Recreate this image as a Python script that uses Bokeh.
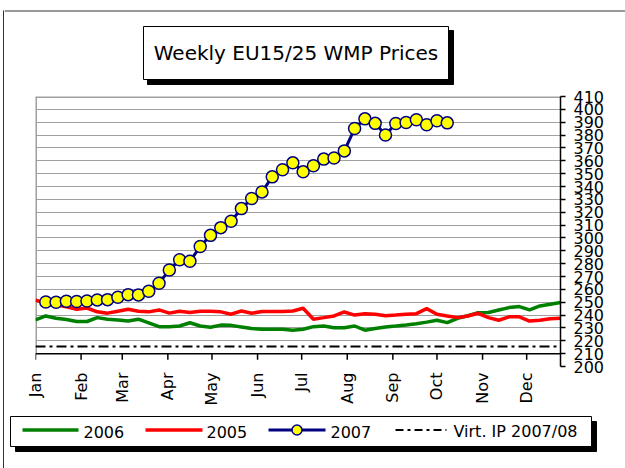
import math
from bokeh.plotting import figure
from bokeh.layouts import column, row
from bokeh.models import Range1d, FixedTicker, Span
from bokeh.core.properties import value
from bokeh.embed import file_html
from bokeh.resources import INLINE

# ---------------- data ----------------
TITLE = "Weekly EU15/25 WMP Prices"
MONTHS = ["Jan", "Feb", "Mar", "Apr", "May", "Jun", "Jul", "Aug", "Sep", "Oct", "Nov", "Dec"]
MONTH_START_DAY = [0, 31, 59, 90, 120, 151, 181, 212, 243, 273, 304, 334]
Y_TICKS = list(range(200, 420, 10))
GRID_TICKS = list(range(220, 410, 10))
X_MIN, X_MAX = 0, 357
Y_MIN, Y_MAX = 200, 410
X_AXIS_CROSS = 210

WEEKS_OLD = list(range(52))        # week index (2005 / 2006)
WEEKS_2007 = list(range(1, 41))    # week index (2007)

P2006 = [236.2, 239.3, 237.5, 236.5, 235, 235, 238, 236.8, 236.2, 235.4,
         236.8, 234, 231, 231, 231.5, 234, 231.5, 230.5, 232.2, 232,
         230.8, 229.5, 229, 229, 229, 228.2, 229, 231, 231.5, 230.2,
         230.2, 231.5, 228.2, 229.5, 230.8, 231.5, 232.3, 233.3, 234.5, 236,
         234.1, 237.5, 239.5, 241.9, 242, 244, 245.8, 246.6, 244, 247.1,
         248.4, 249.7]
P2005 = [251.6, 249.5, 248, 246.5, 244.5, 245.5, 242.5, 241.5, 243, 244.5,
         243, 242.5, 244, 241.5, 243, 242, 243, 243, 242.5, 240.7,
         243.2, 241.4, 242.7, 242.7, 242.7, 243.2, 245.3, 236.8, 238, 239.3,
         242.4, 240, 241, 240.7, 239.5, 240, 240.7, 241.1, 245, 240.7,
         239.3, 238, 239.3, 241.4, 238, 236, 238.6, 238.6, 235.3, 236,
         237.2, 237.6]
P2007 = [250.2, 250, 250.8, 250.5, 251, 251.8, 252, 253.9, 255.9, 255.7,
         258.5, 264.8, 275, 283, 281.8, 293.3, 302, 308, 313, 322.8,
         330.6, 335.8, 347.5, 353, 358.4, 351.4, 356.2, 361.3, 362.1, 367.7,
         385.1, 392.6, 389.1, 380.1, 389, 389.8, 391.9, 388, 391.1, 389.5]
VIRT_IP = 215.5
LEGEND_LABELS = ["2006", "2005", "2007", "Virt. IP 2007/08"]

GREEN = "#008000"
RED = "#ff0000"
NAVY = "#000080"
YELLOW = "#ffff00"
FONT = "DejaVu Sans"

DAYS_OLD = [7 * w for w in WEEKS_OLD]
DAYS_2007 = [7 * w for w in WEEKS_2007]

W = 621  # width of the column figures


def blank(width, height):
    f = figure(width=width, height=height, x_range=Range1d(0, width), y_range=Range1d(height, 0),
               toolbar_location=None, output_backend="svg", min_border=0,
               min_border_left=0, min_border_right=0, min_border_top=0, min_border_bottom=0,
               x_axis_location=None, y_axis_location=None, outline_line_color=None,
               background_fill_color="white", border_fill_color="white")
    f.xgrid.visible = False
    f.ygrid.visible = False
    return f


# ---------------- left frame strip ----------------
strip = blank(4, 468)
strip.quad(left=2.5, right=3.5, top=10, bottom=468, fill_color="#333333", line_color=None)

# ---------------- title ----------------
top = blank(W, 88)
top.segment(x0=0, y0=10.5, x1=W, y1=10.5, line_color="#333333", line_width=1)
top.quad(left=143, right=449, top=30, bottom=84, fill_color="black", line_color="black")
top.quad(left=139, right=444, top=26, bottom=79, fill_color="white", line_color="black", line_width=1)
top.text(x=[291.5], y=[52.5], text=[TITLE], text_align="center", text_baseline="middle",
         text_font=value(FONT), text_font_size="20px", text_color="black")

# ---------------- main plot ----------------
p = figure(width=W, height=325, x_range=Range1d(X_MIN, X_MAX), y_range=Range1d(Y_MIN, Y_MAX),
           y_axis_location="right", toolbar_location=None, output_backend="svg",
           min_border_left=31, min_border_right=65, min_border_top=8, min_border_bottom=47,
           outline_line_color=None, background_fill_color="white", border_fill_color="white")
p.xgrid.visible = False
p.ygrid.ticker = FixedTicker(ticks=GRID_TICKS)
p.ygrid.grid_line_color = "#a0a0a0"
p.ygrid.grid_line_width = 1

p.yaxis.ticker = FixedTicker(ticks=Y_TICKS)
p.yaxis.minor_tick_line_color = None
p.yaxis.major_tick_out = 5
p.yaxis.major_tick_in = 0
p.yaxis.axis_line_width = 1.5
p.yaxis.major_tick_line_width = 1.5
p.yaxis.major_label_standoff = 8
p.yaxis.major_label_text_font = FONT
p.yaxis.major_label_text_font_size = "16px"
p.yaxis.major_label_text_color = "black"

p.xaxis.ticker = FixedTicker(ticks=MONTH_START_DAY)
p.xaxis.major_label_overrides = {d: m for d, m in zip(MONTH_START_DAY, MONTHS)}
p.xaxis.major_label_orientation = math.pi / 2
p.xaxis.axis_line_color = None
p.xaxis.major_tick_line_color = None
p.xaxis.minor_tick_line_color = None
p.xaxis.major_label_standoff = 0
p.xaxis.major_label_text_font = FONT
p.xaxis.major_label_text_font_size = "16px"
p.xaxis.major_label_text_color = "black"

# frame borders (top, left) in grey
p.segment(x0=[X_MIN, X_MIN], y0=[X_AXIS_CROSS, Y_MAX], x1=[X_MIN, X_MAX], y1=[Y_MAX, Y_MAX],
          line_color="#a0a0a0", line_width=3)
# category axis crossing at 210
p.add_layout(Span(location=X_AXIS_CROSS, dimension="width", line_color="black", line_width=1.5))
p.segment(x0=MONTH_START_DAY, y0=[X_AXIS_CROSS] * 12, x1=MONTH_START_DAY, y1=[X_AXIS_CROSS - 4.7] * 12,
          line_color="black", line_width=1.5)

p.add_layout(Span(location=VIRT_IP, dimension="width", line_color="black", line_width=2,
                  line_dash="10 4 3 4"))
p.line(DAYS_OLD, P2006, line_color=GREEN, line_width=3.5)
p.line(DAYS_OLD, P2005, line_color=RED, line_width=3.5)
p.line(DAYS_2007, P2007, line_color=NAVY, line_width=3)
p.scatter(DAYS_2007, P2007, size=12, fill_color=YELLOW, line_color=NAVY, line_width=1.5)

# ---------------- legend ----------------
leg = blank(W, 55)
leg.quad(left=11, right=592, top=8, bottom=38, fill_color="black", line_color="black")
leg.quad(left=6, right=587, top=3, bottom=33, fill_color="white", line_color="black", line_width=1)
ly = 16.5
leg.segment(x0=18, y0=ly, x1=74, y1=ly, line_color=GREEN, line_width=3.5)
leg.segment(x0=141, y0=ly, x1=198, y1=ly, line_color=RED, line_width=3.5)
leg.segment(x0=264, y0=ly, x1=321, y1=ly, line_color=NAVY, line_width=3)
leg.scatter([292.5], [ly], size=10, fill_color=YELLOW, line_color=NAVY, line_width=1.5)
leg.segment(x0=391, y0=ly, x1=442, y1=ly, line_color="black", line_width=2, line_dash="8 4 3 4")
leg.text(x=[79, 202, 326, 449], y=[18, 18, 18, 18], text=LEGEND_LABELS, text_align="left",
         text_baseline="middle", text_font=value(FONT), text_font_size="16px", text_color="black")

layout = row(strip, column(row(top), p, row(leg)))
open("out.html", "w").write(file_html(layout, INLINE))
